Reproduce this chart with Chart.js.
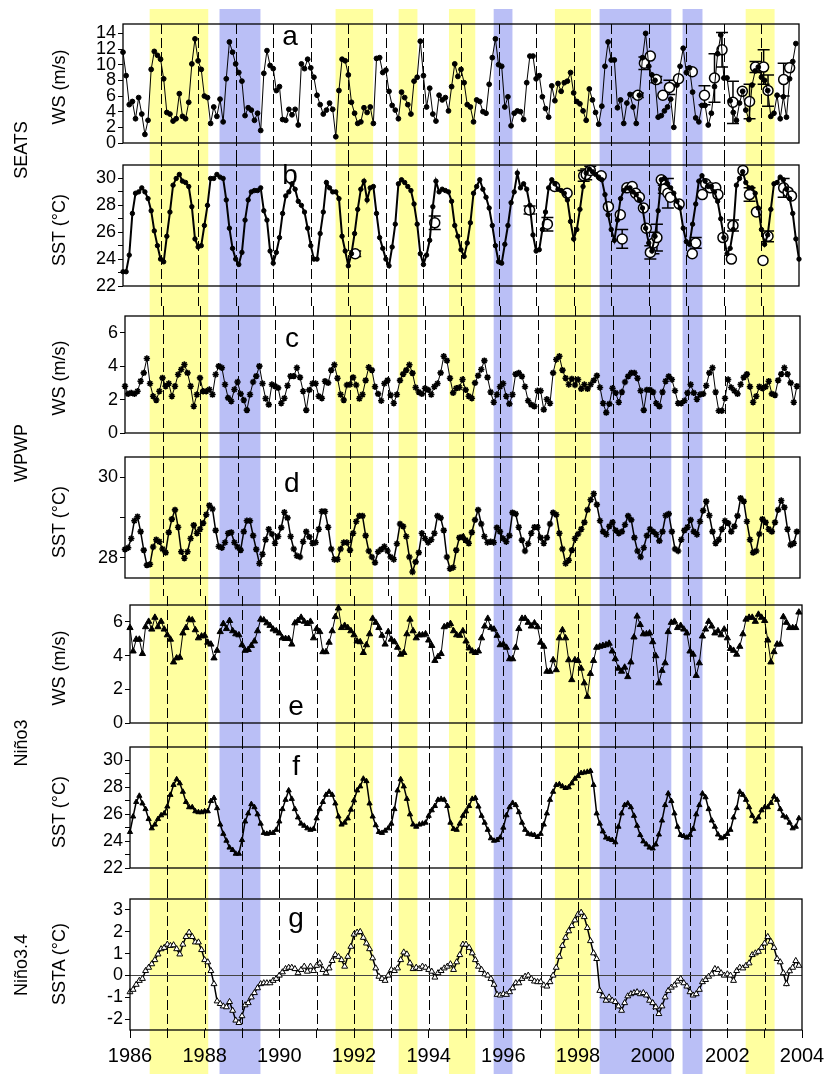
<!DOCTYPE html>
<html>
<head>
<meta charset="utf-8">
<script src="https://cdn.jsdelivr.net/npm/chart.js@4.4.1/dist/chart.umd.min.js"></script>
<style>
  html, body { margin: 0; padding: 0; background: #fff; }
  #fig { position: relative; width: 831px; height: 1074px; overflow: hidden; font-family: 'Liberation Sans', Arial, sans-serif; }
  #fig canvas { position: absolute; left: 0; }
  .vlab { position: absolute; white-space: nowrap; font-size: 18px; color: #000; transform: translate(-50%, -50%) rotate(-90deg); }
</style>
</head>
<body>
<div id="fig"></div>
<script>
Chart.defaults.font.family = "'Liberation Sans', Arial, sans-serif";
Chart.defaults.color = '#000';

// time axis
const yearTicks = [1986, 1987, 1988, 1989, 1990, 1991, 1992, 1993, 1994, 1995, 1996, 1997, 1998, 1999, 2000, 2001, 2002, 2003, 2004];
const yearLabels = [1986, 1988, 1990, 1992, 1994, 1996, 1998, 2000, 2002, 2004];
const dashYears = [1987, 1988, 1989, 1990, 1991, 1992, 1993, 1994, 1995, 1996, 1997, 1998, 1999, 2000, 2001, 2002, 2003];

// El Nino (yellow) and La Nina (blue) periods, decimal years
const warmEvents = [[1986.71, 1988.27], [1991.66, 1992.66], [1993.34, 1993.84], [1994.68, 1995.38], [1997.50, 1998.46], [2002.58, 2003.35]];
const coldEvents = [[1988.57, 1989.66], [1995.87, 1996.37], [1998.69, 2000.60], [2000.90, 2001.43]];

// a: SEATS wind speed, monthly from Jan 1986
const seatsWs = [
  11.6, 8.6, 4.9, 5.3, 3.1, 5.8, 3.7, 1.1, 2.9, 9.4, 11.7, 11.2,
  10.7, 8.2, 3.9, 3.7, 2.8, 3.1, 6.3, 3.4, 3.1, 5.2, 10.1, 13.3,
  10.5, 9.4, 6.0, 5.8, 2.5, 4.6, 3.4, 5.6, 2.7, 8.2, 12.9, 11.6,
  10.1, 9.0, 7.9, 3.5, 4.5, 4.2, 2.9, 3.8, 1.6, 8.9, 11.8, 9.9,
  9.5, 6.7, 7.2, 3.0, 2.9, 4.3, 3.6, 4.3, 2.3, 10.1, 9.5, 10.7,
  9.6, 8.4, 6.1, 4.9, 3.7, 4.2, 5.1, 4.3, 0.8, 6.7, 10.7, 10.5,
  8.7, 5.2, 3.8, 2.5, 2.7, 4.5, 3.9, 4.6, 2.5, 10.8, 10.9, 9.0,
  9.3, 6.6, 4.8, 4.2, 3.1, 6.5, 5.8, 4.9, 3.7, 7.9, 8.4, 13.0,
  8.6, 4.6, 7.0, 3.7, 2.8, 6.1, 5.5, 5.8, 4.1, 7.2, 10.1, 8.5,
  9.4, 7.7, 4.9, 4.6, 2.7, 5.5, 5.3, 4.0, 3.8, 7.5, 10.9, 13.3,
  10.0, 9.8, 4.6, 5.9, 2.2, 3.8, 4.1, 4.0, 3.0, 7.7, 11.1, 11.1,
  8.2, 8.6, 5.9, 4.4, 3.3, 7.3, 5.4, 7.6, 6.6, 7.7, 7.9, 9.0,
  6.4, 5.3, 5.0, 4.1, 2.9, 6.9, 5.5, 3.9, 2.4, 4.7, 9.8, 12.9,
  10.6, 10.6, 4.5, 5.5, 2.5, 5.1, 6.2, 4.6, 2.5, 6.1, 10.9, 14.0,
  9.8, 8.7, 8.0, 3.3, 3.5, 4.1, 4.6, 5.6, 2.0, 7.4, 9.8, 12.1,
  9.0, 9.6, 6.5, 3.2, 2.7, 4.8, 4.8, 2.3, 3.8, 7.2, 11.4, 13.8,
  8.3, 8.3, 5.4, 3.9, 2.9, 5.1, 6.6, 4.2, 3.0, 7.4, 9.2, 9.7,
  8.4, 8.0, 6.7, 3.4, 3.8, 6.1, 3.1, 5.9, 3.3, 8.2, 10.4, 12.7
];
// a: in situ wind speed (month index from Jan 1986, value, half error bar)
const seatsWsObsMonth = [164.5, 166.6, 168.5, 170.4, 172.5, 174.6, 177.5, 181.9, 185.8, 189.0, 191.4, 194.9, 197.9, 200.2, 202.1, 204.7, 206.1, 211.1, 213.0];
const seatsWsObs = [6.1, 10.2, 11.1, 8.1, 6.1, 7.1, 8.2, 9.1, 6.1, 8.3, 11.9, 5.2, 6.6, 5.3, 9.7, 9.7, 6.7, 8.1, 9.6];
const seatsWsObsErr = [0.3, 0.8, 0, 0.4, 0, 0.9, 0, 0, 1.2, 3.1, 2.2, 2.7, 0, 2.2, 0.7, 2.2, 2.0, 2.1, 0];

// b: SEATS SST
const seatsSst = [
  23.06, 23.06, 24.3, 27.4, 28.9, 29.0, 29.3, 29.0, 28.5, 27.6, 26.1, 25.0,
  24.0, 23.8, 25.7, 27.5, 29.5, 30.0, 30.3, 29.8, 29.7, 29.4, 27.9, 25.5,
  24.9, 25.0, 26.5, 28.0, 30.0, 30.0, 30.3, 30.1, 30.0, 28.4, 26.3, 24.8,
  24.0, 23.6, 24.5, 26.9, 28.4, 29.0, 29.1, 29.1, 29.3, 27.6, 26.9, 24.6,
  23.7, 24.5, 25.6, 27.4, 28.7, 29.0, 29.6, 29.2, 28.3, 28.0, 27.5, 26.3,
  25.0, 24.0, 24.0, 25.9, 27.5, 29.7, 29.3, 29.0, 29.0, 28.5, 25.7, 24.6,
  23.5, 24.4, 25.9, 27.7, 29.2, 29.8, 28.4, 29.3, 29.4, 27.4, 25.6, 24.8,
  24.0, 23.5, 24.9, 26.6, 29.6, 29.9, 29.7, 29.4, 29.1, 28.1, 26.6, 24.4,
  23.6, 24.3, 25.4, 27.9, 29.8, 29.0, 29.2, 29.1, 29.0, 28.3, 26.5, 25.7,
  24.7, 24.2, 25.2, 26.7, 28.9, 29.4, 29.9, 29.2, 28.6, 27.8, 26.5, 25.0,
  23.8, 23.7, 25.1, 26.5, 28.2, 29.0, 30.4, 29.3, 29.6, 29.2, 28.0, 25.8,
  24.6, 24.7, 26.2, 27.5, 29.3, 29.9, 29.6, 29.2, 29.1, 28.9, 28.4, 26.8,
  25.5, 26.2, 27.7, 29.4, 30.4, 30.7, 30.5, 30.3, 30.1, 29.9, 28.8, 27.3,
  26.2, 25.4, 26.9, 28.5, 29.1, 29.3, 29.3, 29.0, 28.8, 28.4, 27.8, 26.3,
  25.2, 24.6, 25.7, 27.6, 29.9, 30.0, 29.6, 29.3, 28.9, 28.3, 27.8, 26.3,
  25.3, 25.1, 26.6, 28.1, 29.8, 30.2, 29.8, 29.4, 29.4, 29.0, 28.3, 27.0,
  25.6, 24.4, 24.8, 26.2, 29.5, 30.0, 30.5, 29.7, 29.3, 29.3, 28.9, 27.8,
  26.2, 25.1, 25.8, 27.7, 29.6, 29.7, 30.1, 29.9, 29.2, 28.5, 27.4, 25.5,
  24.0
];
const seatsSstObsMonth = [74.2, 99.6, 129.9, 135.6, 137.9, 141.9, 147.2, 148.0, 149.3, 152.8, 155.1, 158.9, 159.5, 161.0, 162.7, 163.8, 165.0, 166.3, 167.2, 168.5, 169.5, 170.6, 172.0, 172.8, 174.1, 174.9, 177.7, 181.9, 183.0, 185.1, 186.2, 187.7, 189.4, 190.1, 191.7, 194.4, 194.9, 198.1, 200.2, 202.4, 204.5, 206.1, 211.1, 212.5, 213.6];
const seatsSstObs = [24.4, 26.7, 27.65, 26.6, 29.4, 28.9, 30.2, 30.3, 30.6, 30.2, 27.9, 27.3, 25.5, 29.3, 29.4, 28.9, 28.6, 27.8, 26.3, 24.5, 25.2, 25.6, 29.9, 29.2, 28.9, 28.6, 28.1, 24.4, 25.2, 28.8, 29.6, 29.3, 29.3, 28.8, 25.6, 24.0, 26.5, 30.6, 28.8, 27.5, 23.9, 25.7, 29.3, 29.0, 28.7];
const seatsSstObsErr = [0.2, 0.5, 0.3, 0.5, 0, 0, 0.4, 0.4, 0.3, 0, 0, 0, 0.7, 0, 0, 0, 0, 0, 0, 0.5, 0.8, 1.0, 0, 0.3, 1.1, 0, 0, 0, 0.4, 0, 0, 0, 0, 0, 0, 0, 0.4, 0, 0.5, 0, 0, 0.4, 0.7, 0, 0];

// c: WPWP wind speed
const wpwpWs = [
  2.8, 2.34, 2.4, 2.34, 2.5, 3.1, 3.6, 4.46, 2.96, 2.2, 1.97, 2.5,
  3.3, 2.8, 2.96, 2.2, 2.8, 3.5, 3.8, 4.1, 3.6, 2.8, 1.6, 2.3,
  3.3, 2.5, 2.5, 2.6, 2.3, 3.5, 4.0, 3.9, 2.9, 2.1, 1.9, 2.6,
  3.05, 2.34, 1.97, 1.37, 2.3, 3.05, 3.4, 4.0, 2.96, 2.06, 1.7, 2.9,
  2.8, 2.7, 1.78, 2.08, 2.83, 3.4, 3.4, 3.9, 3.33, 2.5, 1.37, 2.58,
  2.96, 2.96, 2.2, 2.08, 3.1, 3.0, 3.76, 4.08, 3.28, 2.3, 1.97, 2.87,
  2.9, 3.33, 2.87, 2.06, 2.3, 3.15, 3.93, 3.76, 2.77, 2.34, 1.93, 2.96,
  3.15, 2.27, 1.78, 2.3, 3.15, 3.52, 3.76, 4.08, 3.58, 2.72, 2.45, 2.34,
  2.68, 2.58, 2.3, 2.77, 2.96, 3.6, 4.59, 4.33, 3.28, 2.4, 2.68, 2.72,
  3.2, 2.58, 2.2, 2.08, 3.0, 3.43, 3.8, 4.33, 3.33, 2.45, 1.84, 2.3,
  2.77, 2.96, 2.2, 1.74, 2.3, 3.52, 3.6, 3.39, 2.77, 1.93, 1.7, 1.59,
  2.53, 2.53, 1.4, 2.02, 1.78, 3.6, 4.4, 4.59, 3.76, 3.28, 2.9, 3.24,
  2.87, 3.2, 2.64, 2.9, 2.64, 2.9, 3.15, 3.43, 2.72, 1.78, 1.22, 1.74,
  2.68, 2.4, 1.84, 2.45, 3.05, 3.39, 3.6, 3.6, 3.28, 2.53, 1.37, 2.58,
  2.58, 2.45, 1.78, 1.59, 2.45, 3.1, 3.39, 3.2, 2.53, 1.78, 1.78, 1.93,
  2.4, 2.9, 2.4, 2.02, 2.3, 2.34, 2.83, 3.6, 3.9, 2.45, 1.33, 1.33,
  2.08, 3.2, 2.72, 2.53, 2.34, 2.9, 3.33, 3.52, 2.77, 1.84, 2.2, 2.77,
  2.68, 2.77, 3.1, 2.34, 2.27, 3.15, 3.52, 3.9, 3.52, 3.0, 1.84, 2.8
];

// d: WPWP SST
const wpwpSst = [
  28.21, 28.25, 28.48, 28.92, 29.02, 28.65, 28.19, 27.82, 27.84, 28.27, 28.45, 28.4,
  28.22, 28.13, 28.63, 28.96, 29.19, 28.76, 28.15, 27.99, 28.15, 28.48, 28.81, 28.61,
  28.71, 28.86, 29.07, 29.3, 29.21, 28.68, 28.28, 28.25, 28.38, 28.61, 28.63, 28.38,
  28.27, 28.19, 28.65, 28.92, 28.92, 28.55, 28.21, 27.86, 28.09, 28.45, 28.71, 28.59,
  28.36, 28.53, 28.75, 29.13, 28.99, 28.53, 28.22, 28.05, 28.02, 28.4, 28.65, 28.52,
  28.36, 28.38, 28.71, 29.15, 29.15, 28.76, 28.22, 27.96, 27.96, 28.22, 28.38, 28.38,
  28.19, 28.61, 28.9, 29.04, 29.04, 28.55, 28.17, 28.02, 27.88, 28.15, 28.21, 28.28,
  28.17, 28.02, 27.96, 28.35, 28.84, 28.78, 28.53, 28.02, 27.65, 27.9, 28.13, 28.61,
  28.48, 28.38, 28.45, 28.61, 29.04, 28.99, 28.68, 28.02, 27.73, 27.76, 28.19, 28.5,
  28.52, 28.44, 28.36, 28.63, 28.94, 29.19, 28.84, 28.53, 28.38, 28.4, 28.38, 28.75,
  28.65, 28.48, 28.4, 28.55, 29.12, 29.09, 28.76, 28.44, 28.17, 28.35, 28.61, 28.76,
  28.76, 28.5, 28.36, 28.5, 28.84, 29.12, 29.07, 28.61, 28.22, 27.86, 27.94, 28.19,
  28.48, 28.59, 28.71, 28.88, 29.19, 29.44, 29.59, 29.32, 28.92, 28.65, 28.58, 28.78,
  28.88, 28.68, 28.61, 28.65, 28.82, 29.04, 28.94, 28.5, 28.17, 28.02, 28.25, 28.55,
  28.71, 28.65, 28.58, 28.42, 28.65, 29.05, 29.09, 28.65, 28.22, 28.17, 28.45, 28.68,
  28.76, 28.94, 28.65, 28.58, 28.9, 29.17, 29.4, 29.05, 28.65, 28.36, 28.45, 28.71,
  28.92, 28.86, 28.65, 28.78, 29.04, 29.48, 29.4, 28.9, 28.45, 28.13, 28.17, 28.59,
  28.96, 28.88, 28.71, 28.65, 28.88, 29.19, 29.42, 29.25, 28.71, 28.32, 28.36, 28.65
];

// e: Nino3 wind speed
const nino3Ws = [
  5.65, 4.26, 4.96, 4.96, 4.11, 5.7, 6.02, 5.56, 6.26, 5.7, 6.02, 5.56,
  5.22, 4.96, 3.61, 3.85, 3.89, 5.33, 5.65, 6.15, 6.11, 5.52, 5.04, 5.15,
  5.19, 4.78, 4.67, 3.85, 4.3, 5.41, 5.89, 5.59, 6.07, 5.46, 5.28, 5.22,
  4.63, 4.3, 4.35, 4.59, 4.85, 5.46, 6.15, 6.11, 5.93, 5.78, 5.56, 5.46,
  5.33, 5.04, 5.0, 5.0, 4.67, 5.93, 6.07, 6.26, 6.02, 5.89, 6.02, 5.04,
  5.59, 5.41, 4.22, 4.22, 4.78, 5.46, 6.3, 6.81, 5.65, 5.78, 5.65, 5.46,
  5.22, 4.85, 4.81, 4.17, 4.63, 5.28, 6.2, 5.96, 5.65, 5.19, 4.67, 5.41,
  4.96, 4.81, 4.48, 4.07, 4.17, 5.28, 6.15, 5.46, 5.04, 5.22, 5.22, 5.28,
  4.91, 4.59, 3.7, 3.93, 4.11, 5.7, 5.78, 5.89, 5.46, 5.22, 5.19, 5.46,
  4.85, 4.44, 4.26, 4.17, 4.26, 5.04, 5.74, 6.2, 5.65, 5.56, 5.19, 4.63,
  4.67, 4.48, 3.8, 3.8, 4.48, 5.59, 6.2, 6.2, 5.96, 5.74, 5.93, 5.7,
  4.78, 4.54, 3.06, 3.06, 3.74, 3.15, 5.04, 5.52, 5.04, 3.74, 2.56, 3.74,
  3.7, 3.24, 2.37, 1.57, 2.93, 3.7, 4.48, 4.54, 4.59, 4.63, 4.72, 4.26,
  3.8, 3.24, 3.06, 3.3, 2.74, 3.61, 5.09, 6.33, 5.83, 5.28, 5.28, 5.33,
  4.81, 3.98, 2.37, 3.11, 3.56, 5.41, 5.96, 6.02, 5.65, 5.78, 5.56, 5.33,
  4.26, 4.07, 2.81, 3.56, 5.15, 5.56, 6.02, 5.74, 5.33, 5.46, 5.22, 5.56,
  5.04, 4.41, 4.3, 4.07, 4.54, 5.28, 6.15, 6.26, 6.26, 6.02, 6.44, 6.26,
  6.07, 4.91, 3.61, 4.22, 4.67, 4.67, 6.3, 5.96, 5.65, 5.65, 5.65, 6.57
];

// f: Nino3 SST
const nino3Sst = [
  24.68, 25.83, 26.91, 27.37, 26.8, 26.38, 25.64, 24.95, 25.23, 25.64, 25.92, 26.06,
  26.57, 27.44, 28.18, 28.6, 28.3, 27.67, 26.91, 26.52, 26.52, 26.22, 26.15, 26.15,
  26.22, 26.22, 26.98, 27.21, 26.45, 25.23, 24.54, 24.03, 23.52, 23.34, 23.06, 23.06,
  24.08, 25.46, 26.06, 26.75, 26.52, 25.99, 25.3, 24.61, 24.54, 24.61, 24.61, 24.84,
  25.46, 26.38, 27.07, 27.77, 27.14, 26.38, 25.76, 25.3, 25.14, 24.95, 24.84, 24.91,
  25.69, 26.38, 26.91, 27.44, 27.67, 27.44, 26.8, 25.83, 25.23, 25.37, 25.69, 26.34,
  27.03, 27.77, 28.07, 28.64, 28.46, 26.8, 25.83, 25.18, 24.68, 24.61, 24.77, 24.95,
  25.3, 26.38, 27.77, 28.6, 28.07, 27.14, 25.99, 25.23, 25.07, 25.23, 25.3, 25.37,
  25.88, 26.29, 26.61, 27.07, 27.14, 27.07, 26.61, 25.37, 24.91, 24.84, 25.3, 25.88,
  26.22, 26.61, 27.14, 27.21, 26.57, 25.88, 25.37, 24.84, 24.21, 24.03, 24.08, 24.26,
  25.0, 25.92, 26.52, 26.84, 26.68, 26.15, 25.37, 24.84, 24.54, 24.49, 24.45, 24.31,
  24.54, 25.23, 26.06, 27.07, 27.67, 28.18, 28.23, 28.07, 27.95, 28.0, 28.3, 28.64,
  28.83, 29.06, 29.1, 29.15, 29.22, 28.18, 26.06, 25.3, 24.72, 24.26, 24.15, 24.08,
  23.91, 25.07, 26.06, 26.68, 26.8, 26.52, 25.88, 25.14, 24.45, 23.98, 23.75, 23.52,
  23.45, 23.75, 24.49, 25.53, 26.68, 27.54, 26.98, 26.06, 25.07, 24.45, 24.38, 24.26,
  24.45, 24.91, 25.99, 26.68, 27.54, 27.26, 26.38, 25.53, 25.07, 24.49, 24.21, 24.31,
  24.54, 24.84, 25.76, 26.45, 27.67, 27.44, 27.07, 26.52, 25.88, 25.46, 25.76, 26.29,
  26.52, 26.52, 26.84, 27.31, 27.07, 26.38, 25.88, 25.76, 25.37, 24.95, 25.07, 25.7
];

// g: Nino3.4 SST anomaly
const nino34Ssta = [
  -0.76, -0.65, -0.42, -0.24, -0.15, 0.21, 0.36, 0.52, 0.71, 0.97, 1.21, 1.27,
  1.42, 1.36, 1.39, 1.21, 0.97, 1.42, 1.77, 1.97, 1.77, 1.52, 1.52, 1.17,
  0.71, 0.61, 0.21, -0.39, -1.18, -1.3, -1.41, -1.45, -1.21, -1.61, -2.06, -2.17,
  -1.86, -1.36, -1.26, -1.0, -0.8, -0.58, -0.39, -0.35, -0.35, -0.35, -0.24, -0.15,
  0, 0.15, 0.3, 0.36, 0.36, 0.3, 0.11, 0.26, 0.41, 0.18, 0.41, 0.21,
  0.45, 0.56, 0.26, 0.11, 0.33, 0.67, 0.94, 0.86, 0.71, 0.41, 0.86, 1.32,
  1.88, 1.97, 2.0, 1.73, 1.47, 1.21, 0.79, 0.33, -0.05, -0.15, -0.24, 0,
  0.26, 0.21, 0.33, 0.71, 1.06, 0.97, 0.56, 0.3, 0.36, 0.3, 0.41, 0.36,
  0.26, 0.18, -0.09, 0.11, 0.21, 0.33, 0.41, 0.52, 0.26, 0.61, 0.94, 1.42,
  1.42, 1.27, 1.02, 0.71, 0.41, 0.26, 0.06, 0, -0.15, -0.42, -0.88, -0.91,
  -0.85, -0.88, -0.76, -0.58, -0.35, -0.35, -0.15, -0.05, 0, -0.15, -0.27, -0.3,
  -0.3, -0.45, -0.5, -0.3, 0, 0.36, 0.86, 1.36, 1.73, 2.03, 2.27, 2.53,
  2.79, 2.88, 2.68, 2.18, 1.58, 1.02, 0.76, -0.7, -0.95, -1.15, -1.0, -1.15,
  -1.21, -1.41, -1.61, -1.26, -0.95, -0.85, -0.8, -0.76, -0.85, -0.8, -0.91, -1.15,
  -1.26, -1.45, -1.76, -1.41, -1.0, -0.7, -0.55, -0.45, -0.27, -0.15, -0.35, -0.5,
  -0.76, -0.91, -0.85, -0.65, -0.3, -0.2, -0.05, 0.06, 0.3, 0.26, 0.11, 0,
  0.06, 0, -0.24, 0.21, 0.36, 0.33, 0.45, 0.56, 0.94, 1.02, 1.09, 1.27,
  1.47, 1.77, 1.55, 1.27, 0.76, 0.61, 0.11, -0.39, 0.2, 0.36, 0.67, 0.45
];

// y ticks per panel (all marks) and the ones carrying a label
const wsTicks = [0, 2, 4, 6];
const wsTicksSeats = [0, 2, 4, 6, 8, 10, 12, 14];
const sstTicks = [22, 23, 24, 25, 26, 27, 28, 29, 30];
const sstLabels = [22, 24, 26, 28, 30];
const wpwpSstTicks = [28, 29, 30];
const wpwpSstLabels = [28, 30];
const sstaTicks = [-2, -1, 0, 1, 2, 3];

const monthly = (vals) => vals.map((v, i) => ({ x: 1986 + i / 12, y: v }));
const observed = (months, vals) => months.map((m, i) => ({ x: 1986 + m / 12, y: vals[i] }));

const panels = [
  { letter: 'a', values: seatsWs, yMin: 0, yMax: 15.2, ticks: wsTicksSeats, labels: wsTicksSeats,
    style: 'circle', radius: 2.4, width: 1, obsM: seatsWsObsMonth, obsV: seatsWsObs, obsE: seatsWsObsErr,
    frame: [123, 24, 799, 150], slice: [0, 157], letterDy: 21 },
  { letter: 'b', values: seatsSst, yMin: 22, yMax: 31, ticks: sstTicks, labels: sstLabels,
    style: 'circle', radius: 2.2, width: 2, obsM: seatsSstObsMonth, obsV: seatsSstObs, obsE: seatsSstObsErr,
    frame: [123, 165, 799, 296], slice: [157, 306], letterDy: 19 },
  { letter: 'c', values: wpwpWs, yMin: 0, yMax: 7, ticks: wsTicks, labels: wsTicks,
    style: 'star', radius: 3.2, width: 1, frame: [125, 316, 800, 441], slice: [306, 449], letterDy: 31 },
  { letter: 'd', values: wpwpSst, yMin: 27.5, yMax: 30.5, ticks: wpwpSstTicks, labels: wpwpSstLabels,
    style: 'star', radius: 3.2, width: 1.5, frame: [125, 457, 800, 587], slice: [449, 596], letterDy: 35 },
  { letter: 'e', values: nino3Ws, yMin: 0, yMax: 7, ticks: wsTicks, labels: wsTicks,
    style: 'triangle', radius: 3.6, width: 1, frame: [130, 605, 802, 731], slice: [596, 739], letterDy: 110 },
  { letter: 'f', values: nino3Sst, yMin: 22, yMax: 31, ticks: sstTicks, labels: sstLabels,
    style: 'triangle', radius: 3, width: 1.5, frame: [130, 747, 802, 878], slice: [739, 888], letterDy: 28 },
  { letter: 'g', values: nino34Ssta, yMin: -2.5, yMax: 3.5, ticks: sstaTicks, labels: sstaTicks,
    style: 'triangle', radius: 3.4, width: 1.5, hollow: true, zero: true,
    frame: [130, 899, 802, 1030], slice: [888, 1074], letterDy: 28 }
];

const sideTitles = [
  ['WS (m/s)', 59, 87], ['SST (°C)', 59, 230], ['WS (m/s)', 59, 378], ['SST (°C)', 59, 522],
  ['WS (m/s)', 59, 668], ['SST (°C)', 59, 812], ['SSTA (°C)', 59, 964],
  ['SEATS', 21, 150], ['WPWP', 21, 453], ['Niño3', 21, 743], ['Niño3.4', 21, 965]
];

const charts = [];

function makeDecor(p, first, last) {
  return {
    id: 'decor',
    beforeDraw(chart) {
      const { ctx } = chart;
      // the shaded periods run straight through the whole figure: use the top panel's time scale
      const bandScale = (charts[0] || chart).scales.x;
      const top = first ? 9 - p.slice[0] : 0;
      const bottom = chart.height;
      ctx.save();
      ctx.fillStyle = 'rgb(255, 255, 160)';
      warmEvents.forEach(([a, b]) => {
        const x0 = bandScale.getPixelForValue(a), x1 = bandScale.getPixelForValue(b);
        ctx.fillRect(x0, top, x1 - x0, bottom - top);
      });
      ctx.fillStyle = 'rgb(186, 191, 246)';
      coldEvents.forEach(([a, b]) => {
        const x0 = bandScale.getPixelForValue(a), x1 = bandScale.getPixelForValue(b);
        ctx.fillRect(x0, top, x1 - x0, bottom - top);
      });
      ctx.restore();
    },
    beforeDatasetsDraw(chart) {
      const { ctx, chartArea } = chart;
      const x = chart.scales.x, y = chart.scales.y;
      ctx.save();
      // yearly dashed lines
      ctx.strokeStyle = '#000';
      ctx.lineWidth = 1;
      ctx.setLineDash([10, 4]);
      const y0 = first ? chartArea.top : 0;
      const y1 = last ? chartArea.bottom : chart.height;
      dashYears.forEach((yr) => {
        const px = Math.round(x.getPixelForValue(yr)) + 0.5;
        ctx.beginPath();
        ctx.moveTo(px, y0);
        ctx.lineTo(px, y1);
        ctx.stroke();
      });
      ctx.setLineDash([]);
      if (p.zero) {
        ctx.strokeStyle = '#444';
        ctx.beginPath();
        const py = Math.round(y.getPixelForValue(0)) + 0.5;
        ctx.moveTo(chartArea.left, py);
        ctx.lineTo(chartArea.right, py);
        ctx.stroke();
      }
      // error bars of the in situ values
      if (p.obsM) {
        ctx.strokeStyle = '#000';
        ctx.lineWidth = 1.5;
        p.obsM.forEach((m, i) => {
          const e = p.obsE[i];
          if (!e) return;
          const px = x.getPixelForValue(1986 + m / 12);
          const ya = y.getPixelForValue(p.obsV[i] - e), yb = y.getPixelForValue(p.obsV[i] + e);
          ctx.beginPath();
          ctx.moveTo(px, ya); ctx.lineTo(px, yb);
          ctx.moveTo(px - 6, ya); ctx.lineTo(px + 6, ya);
          ctx.moveTo(px - 6, yb); ctx.lineTo(px + 6, yb);
          ctx.stroke();
        });
      }
      ctx.restore();
    },
    afterDatasetsDraw(chart) {
      const { ctx, chartArea } = chart;
      const x = chart.scales.x;
      ctx.save();
      ctx.strokeStyle = '#000';
      ctx.lineWidth = 1.3;
      ctx.strokeRect(chartArea.left, chartArea.top, chartArea.right - chartArea.left, chartArea.bottom - chartArea.top);
      ctx.fillStyle = '#000';
      ctx.font = "28px 'Liberation Sans', Arial, sans-serif";
      ctx.textAlign = 'center';
      ctx.textBaseline = 'alphabetic';
      ctx.fillText(p.letter, x.getPixelForValue(1990.45), chartArea.top + p.letterDy);
      ctx.restore();
    }
  };
}

const fig = document.getElementById('fig');

panels.forEach((p, idx) => {
  const first = idx === 0, last = idx === panels.length - 1;
  const [fl, ft, fr, fb] = p.frame;
  const [s0, s1] = p.slice;
  const canvas = document.createElement('canvas');
  canvas.width = 831;
  canvas.height = s1 - s0;
  canvas.style.top = s0 + 'px';
  canvas.style.width = '831px';
  canvas.style.height = (s1 - s0) + 'px';
  fig.appendChild(canvas);

  const datasets = [{
    data: monthly(p.values),
    borderColor: '#000',
    borderWidth: p.width,
    pointStyle: p.style,
    pointRadius: p.radius,
    pointBackgroundColor: p.hollow ? '#fff' : '#000',
    pointBorderColor: '#000',
    pointBorderWidth: p.style === 'star' ? 1.6 : 1,
    tension: 0,
    clip: 6
  }];
  if (p.obsM) {
    datasets.push({
      data: observed(p.obsM, p.obsV),
      showLine: false,
      pointStyle: 'circle',
      pointRadius: 5,
      pointBackgroundColor: '#fff',
      pointBorderColor: '#000',
      pointBorderWidth: 1.5,
      clip: 8
    });
  }

  const chart = new Chart(canvas, {
    type: 'line',
    data: { datasets },
    options: {
      responsive: false,
      animation: false,
      events: [],
      layout: { padding: { top: ft - s0, bottom: last ? 0 : s1 - fb, left: 0, right: 831 - fr } },
      plugins: { legend: { display: false }, tooltip: { enabled: false } },
      scales: {
        x: {
          type: 'linear',
          min: 1986,
          max: 2004,
          display: last,
          afterBuildTicks: (s) => { s.ticks = yearTicks.map((v) => ({ value: v })); },
          afterFit: (s) => { s.height = s1 - fb; s.paddingLeft = 0; s.paddingRight = 0; },
          ticks: {
            autoSkip: false,
            maxRotation: 0,
            padding: 6,
            font: { size: 20 },
            color: '#000',
            callback: (v) => (yearLabels.includes(v) ? String(v) : '')
          },
          grid: { drawOnChartArea: false, drawTicks: true, tickLength: 8, color: '#000' },
          border: { display: false }
        },
        y: {
          type: 'linear',
          min: p.yMin,
          max: p.yMax,
          afterBuildTicks: (s) => { s.ticks = p.ticks.map((v) => ({ value: v })); },
          afterFit: (s) => { s.width = fl; s.paddingTop = 0; s.paddingBottom = 0; },
          ticks: {
            autoSkip: false,
            padding: 2,
            font: { size: 18 },
            color: '#000',
            callback: (v) => (p.labels.includes(v) ? String(v) : '')
          },
          grid: { drawOnChartArea: false, drawTicks: true, tickLength: 5, color: '#000' },
          border: { display: false }
        }
      }
    },
    plugins: [makeDecor(p, first, last)]
  });
  charts.push(chart);
});

sideTitles.forEach(([text, cx, cy]) => {
  const d = document.createElement('div');
  d.className = 'vlab';
  d.textContent = text;
  d.style.left = cx + 'px';
  d.style.top = cy + 'px';
  fig.appendChild(d);
});
</script>
</body>
</html>
